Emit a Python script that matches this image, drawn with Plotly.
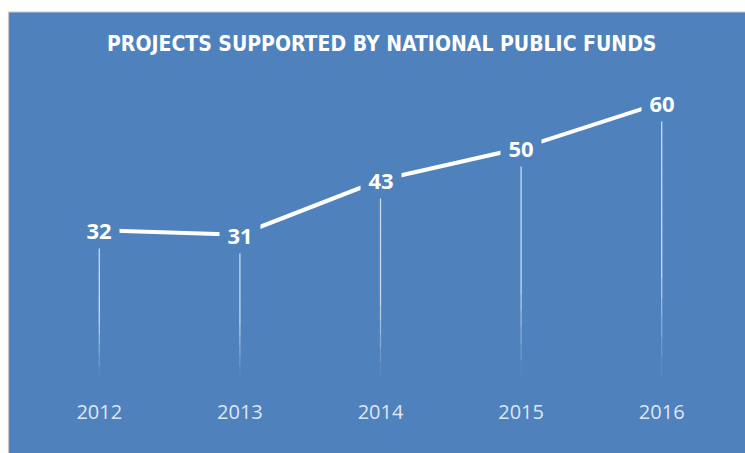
import plotly.graph_objects as go

years = ["2012", "2013", "2014", "2015", "2016"]
projects = [32, 31, 43, 50, 60]
title_text = "PROJECTS SUPPORTED BY NATIONAL PUBLIC FUNDS"

BLUE = "#4f81bd"
W, H = 745, 453
L, T = 29, 57
R = W - 732
B = H - 376
pw, ph = W - L - R, H - T - B

fig = go.Figure()

# fading drop lines (from each value down to zero)
N = 14
for k in range(N):
    f_top = 1 - k / N
    f_bot = 1 - (k + 1) / N
    mid = (f_top + f_bot) / 2
    alpha = 0.8 * min(1.0, mid / 0.4)
    xs, ys = [], []
    for i, v in enumerate(projects):
        xs += [i, i, None]
        ys += [v * f_top, v * f_bot, None]
    fig.add_trace(go.Scatter(
        x=xs, y=ys, mode="lines",
        line=dict(color=f"rgba(235,242,252,{alpha:.3f})", width=1.3),
        hoverinfo="skip", showlegend=False))

# main line
fig.add_trace(go.Scatter(
    x=list(range(len(years))), y=projects, mode="lines",
    line=dict(color="white", width=4),
    showlegend=False))

# data labels with blue backgrounds that break the line
for i, v in enumerate(projects):
    fig.add_annotation(
        x=i, y=v, text=f"<b>{v}</b>", showarrow=False,
        font=dict(family="Open Sans", size=22, color="white"),
        bgcolor=BLUE, width=38, height=34, xanchor="center", yanchor="middle")

# title
fig.add_annotation(
    xref="paper", yref="paper",
    x=(381 - L) / pw, y=1 + (T - 44) / ph,
    text="<b>" + title_text + "</b>", showarrow=False,
    font=dict(family="DejaVu Sans Condensed", size=21, color="white"),
    xanchor="center", yanchor="middle")

# blue panel with thin grey border on the top/left
fig.add_shape(
    type="rect", xref="paper", yref="paper", layer="below",
    x0=(8.5 - L) / pw, x1=(W + 5 - L) / pw,
    y0=-(B + 5) / ph, y1=1 + (T - 12) / ph,
    fillcolor=BLUE, line=dict(color="#c4c8cc", width=1.2))

fig.update_layout(
    width=W, height=H,
    margin=dict(l=L, r=R, t=T, b=B, pad=0),
    paper_bgcolor="white", plot_bgcolor="rgba(0,0,0,0)",
    xaxis=dict(
        range=[-0.5, 4.5], showgrid=False, zeroline=False,
        showline=False, ticks="", ticklabelstandoff=22,
        tickmode="array", tickvals=list(range(len(years))), ticktext=years,
        tickfont=dict(family="Open Sans", size=20, color="#dde7f3")),
    yaxis=dict(range=[0, 70], visible=False),
    showlegend=False,
)

fig.write_html(
    "out.html",
    config={"displayModeBar": False},
    post_script="document.body.style.margin='0';document.body.style.overflow='hidden';")
